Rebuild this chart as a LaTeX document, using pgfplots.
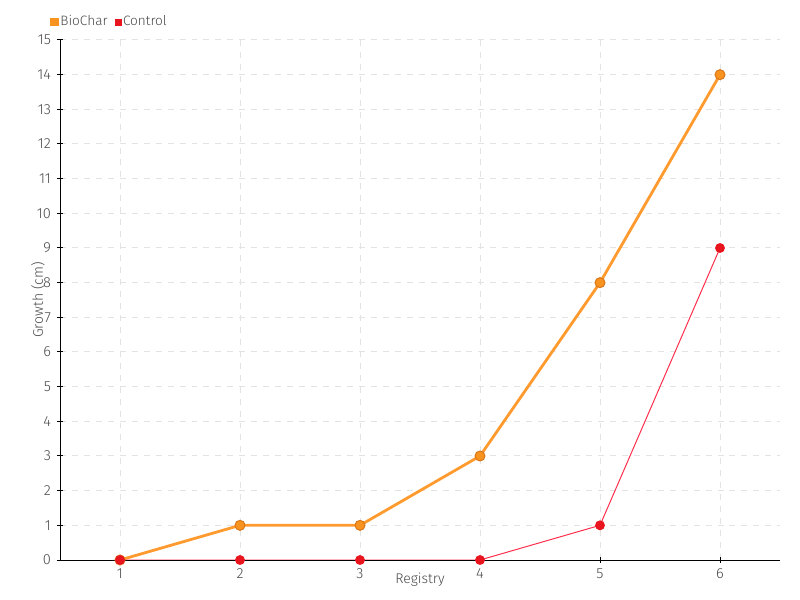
\documentclass[border=0pt]{standalone}
\usepackage{fontspec}
\setmainfont{Fira Sans Light}
\usepackage{pgfplots}
\pgfplotsset{compat=1.18}
\definecolor{bioline}{HTML}{FF9A2E}
\definecolor{biomark}{HTML}{F7931E}
\definecolor{bioedge}{HTML}{D9771A}
\definecolor{ctrline}{HTML}{FF2E4C}
\definecolor{ctrmark}{HTML}{E8141E}
\definecolor{txt}{HTML}{4A4A4A}
\definecolor{gridc}{HTML}{E3E3E3}
\begin{document}
\begin{tikzpicture}
\useasboundingbox (0,0) rectangle (400bp,300bp);
\begin{axis}[
    at={(30bp,20bp)}, anchor=south west,
    scale only axis, width=360bp, height=260bp,
    xmin=0.5, xmax=6.5, ymin=0, ymax=15,
    xtick={1,2,3,4,5,6}, ytick={0,1,...,15},
    axis x line*=bottom, axis y line*=left,
    axis line style={-, black, line width=0.5bp},
    tick align=center, major tick length=3bp,
    tick style={black, line width=0.5bp},
    grid=major, grid style={gridc, dashed, line width=0.5bp},
    /pgf/number format/assume math mode=true,
    tick label style={font=\fontsize{7.3bp}{8bp}\selectfont, text=txt},
    yticklabel style={xshift=0.5bp},
    xticklabel style={yshift=0.5bp},
    xlabel={Registry}, ylabel={Growth (cm)},
    label style={font=\fontsize{7bp}{8bp}\selectfont, text=txt},
    xlabel style={at={(axis description cs:0.5,-0.0385)}, anchor=center},
    ylabel style={at={(axis description cs:-0.0306,0.5)}, anchor=center, rotate=0},
    legend columns=2,
    legend style={at={(axis description cs:-0.0139,1.0346)}, anchor=west,
        draw=none, fill=none, inner sep=0pt,
        nodes={inner sep=0.6bp},
        font=\fontsize{6.8bp}{8bp}\selectfont, text=txt,
        /tikz/every odd column/.append style={column sep=0bp},
        /tikz/every even column/.append style={column sep=3bp}},
    legend cell align=left,
]
\addplot[bioline, line width=1.4bp, mark=*, mark size=2.5bp,
    mark options={fill=biomark, draw=bioedge, line width=0.5bp},
    legend image code/.code={\fill[biomark] (0bp,-1.5bp) rectangle (3bp,1.5bp);}]
coordinates {(1,0) (2,1) (3,1) (4,3) (5,8) (6,14)};
\addlegendentry{BioChar}
\addplot[ctrline, line width=0.5bp, mark=*, mark size=2.2bp,
    mark options={fill=ctrmark, draw=ctrmark},
    legend image code/.code={\fill[ctrmark] (0bp,-1.5bp) rectangle (3bp,1.5bp);}]
coordinates {(1,0) (2,0) (3,0) (4,0) (5,1) (6,9)};
\addlegendentry{Control}
\end{axis}
\end{tikzpicture}
\end{document}
